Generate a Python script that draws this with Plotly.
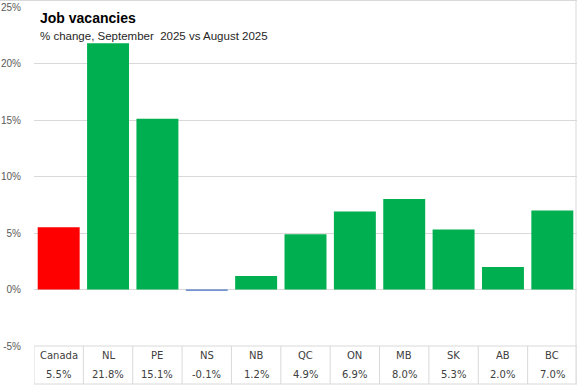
import plotly.graph_objects as go

categories = ["Canada", "NL", "PE", "NS", "NB", "QC", "ON", "MB", "SK", "AB", "BC"]
values = [5.5, 21.8, 15.1, -0.1, 1.2, 4.9, 6.9, 8.0, 5.3, 2.0, 7.0]
value_labels = ["5.5%", "21.8%", "15.1%", "-0.1%", "1.2%", "4.9%", "6.9%", "8.0%", "5.3%", "2.0%", "7.0%"]
tick_vals = [-5, 0, 5, 10, 15, 20, 25]
tick_text = ["-5%", "0%", "5%", "10%", "15%", "20%", "25%"]
title_text = "Job vacancies"
subtitle_text = "% change, September  2025 vs August 2025"

W, H = 577, 385
ML, MR, MT, MB = 34, 0, 7, 39
PH = H - MT - MB
PW = W - ML - MR

def py(pix):
    return (H - MB - pix) / PH

def px(pix):
    return (pix - ML) / PW

colors = []
for c, v in zip(categories, values):
    if c == "Canada":
        colors.append("#FF0000")
    elif v < 0:
        colors.append("#4472C4")
    else:
        colors.append("#00B050")

xs = list(range(len(categories)))
fig = go.Figure(go.Bar(x=xs, y=values, marker=dict(color=colors, line=dict(width=0)),
                       hoverinfo="skip"))

grid = "#D9D9D9"
shapes = []
# table top (the -5% line) and separators
shapes.append(dict(type="line", xref="paper", yref="paper", x0=0, x1=1,
                   y0=0, y1=0, line=dict(color=grid, width=1)))
for i in range(len(categories) + 1):
    shapes.append(dict(type="line", xref="x", yref="paper", x0=i - 0.5, x1=i - 0.5,
                       y0=0, y1=py(384), line=dict(color=grid, width=1)))
# table bottom
shapes.append(dict(type="line", xref="paper", yref="paper", x0=0, x1=1,
                   y0=py(384), y1=py(384), line=dict(color=grid, width=1)))
# chart border top and right
shapes.append(dict(type="line", xref="paper", yref="paper", x0=px(0), x1=1,
                   y0=py(0.5), y1=py(0.5), line=dict(color=grid, width=1)))
shapes.append(dict(type="line", xref="paper", yref="paper", x0=px(576), x1=px(576),
                   y0=py(0.5), y1=py(384), line=dict(color=grid, width=1)))

annotations = []
for i, (c, lab) in enumerate(zip(categories, value_labels)):
    annotations.append(dict(x=i, y=py(355.5), xref="x", yref="paper", text=c, showarrow=False,
                            font=dict(family="DejaVu Sans", size=10, color="#404040"),
                            xanchor="center", yanchor="middle"))
    annotations.append(dict(x=i, y=py(374.5), xref="x", yref="paper", text=lab, showarrow=False,
                            font=dict(family="DejaVu Sans", size=10, color="#404040"),
                            xanchor="center", yanchor="middle"))
annotations.append(dict(x=px(38), y=py(17.5), xref="paper", yref="paper", text="<b>" + title_text + "</b>",
                        showarrow=False, xanchor="left", yanchor="middle",
                        font=dict(family="Liberation Sans, Arial", size=14, color="#000000")))
annotations.append(dict(x=px(38), y=py(36.5), xref="paper", yref="paper", text=subtitle_text,
                        showarrow=False, xanchor="left", yanchor="middle",
                        font=dict(family="Liberation Sans, Arial", size=11.5, color="#262626")))

fig.update_layout(
    width=W, height=H,
    margin=dict(l=ML, r=MR, t=MT, b=MB),
    paper_bgcolor="white", plot_bgcolor="white",
    bargap=0.15,
    showlegend=False,
    hovermode=False,
    shapes=shapes,
    annotations=annotations,
    xaxis=dict(range=[-0.5, len(categories) - 0.5], showticklabels=False, showgrid=False,
               zeroline=False, fixedrange=True),
    yaxis=dict(range=[-5, 25], tickvals=tick_vals, ticktext=tick_text, showgrid=True,
               gridcolor=grid, gridwidth=1, zeroline=True, zerolinecolor=grid, zerolinewidth=1,
               ticks="", ticklabelstandoff=12, fixedrange=True,
               tickfont=dict(family="Liberation Sans, Arial", size=10, color="#595959")),
)

fig.write_html("out.html", config={"displayModeBar": False, "staticPlot": True},
               post_script="document.body.style.margin='0';document.body.style.overflow='hidden';")
